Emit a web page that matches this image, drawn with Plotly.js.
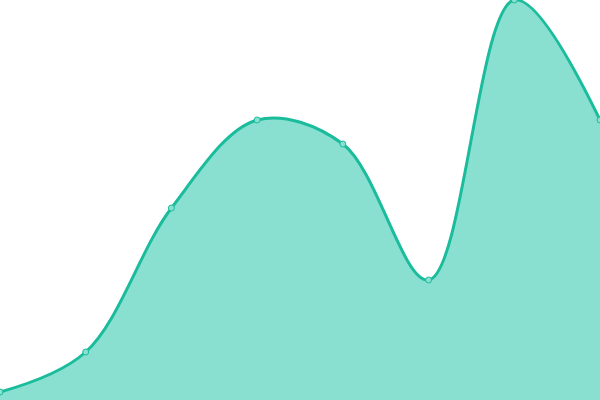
<!DOCTYPE html>
<html><head><meta charset="utf-8">
<script src="https://cdn.plot.ly/plotly-3.0.1.min.js"></script>
<style>html,body{margin:0;padding:0;background:#fff}#c{width:600px;height:400px}</style>
</head><body><div id="c"></div>
<script>
const xs = [0, 1, 2, 3, 4, 5, 6, 7];
const values = [2, 12, 48, 70, 64, 30, 100, 70];
Plotly.newPlot('c', [{
  x: xs, y: values, type: 'scatter', mode: 'lines+markers',
  fill: 'tozeroy', fillcolor: '#89e0d0',
  line: {shape: 'spline', smoothing: 1, color: '#1abc9c', width: 3},
  marker: {size: 6, color: '#8ae0d0', line: {color: '#1abc9c', width: 1}},
  hoverinfo: 'none'
}], {
  width: 600, height: 400, margin: {l: 0, r: 0, t: 0, b: 0},
  paper_bgcolor: '#fff', plot_bgcolor: '#fff', showlegend: false,
  xaxis: {range: [0, 7], visible: false, fixedrange: true},
  yaxis: {range: [0, 100], visible: false, fixedrange: true}
}, {displayModeBar: false, staticPlot: true});
</script></body></html>
